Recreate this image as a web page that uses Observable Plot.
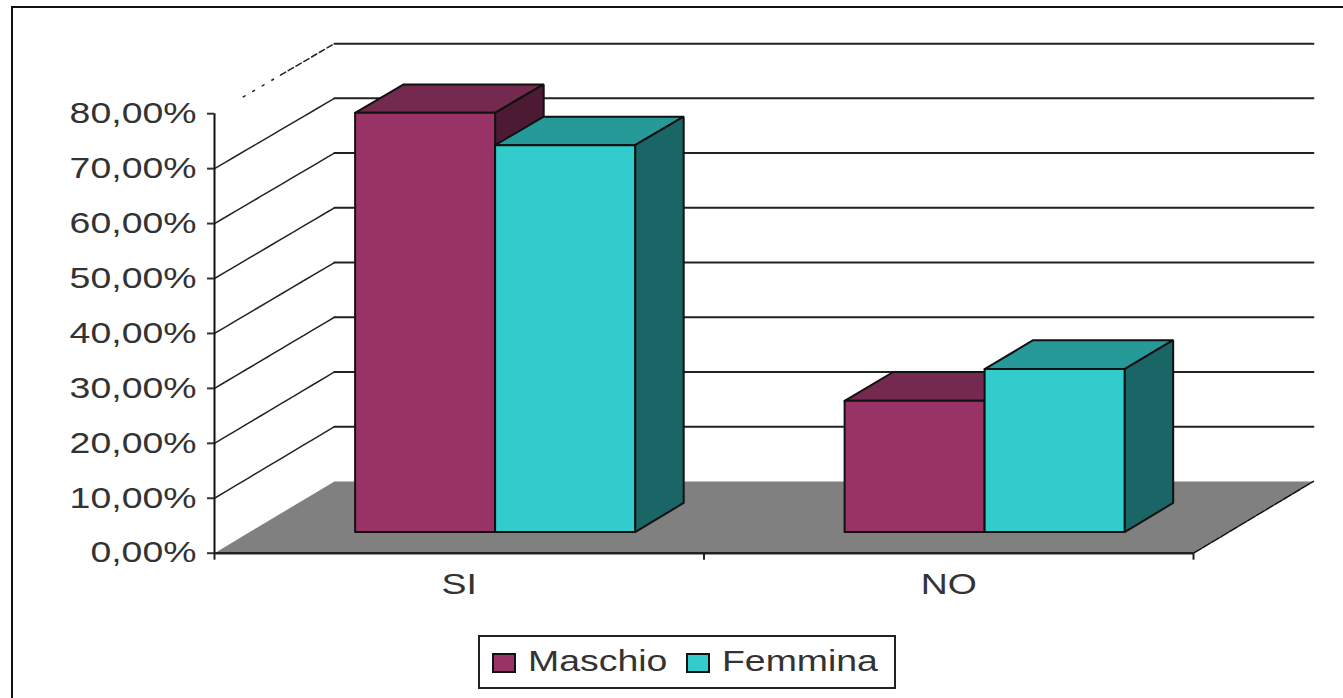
<!DOCTYPE html>
<html>
<head>
<meta charset="utf-8">
<script src="https://cdn.jsdelivr.net/npm/d3@7"></script>
<script src="https://cdn.jsdelivr.net/npm/@observablehq/plot@0.6"></script>
<style>
html,body{margin:0;padding:0;background:#fff;overflow:hidden;width:1343px;height:698px;}
#wrap{position:relative;width:1343px;height:698px;}
#wrap svg{position:absolute;left:0;top:0;background:transparent;}
#frame{position:absolute;left:11px;top:6px;width:1340px;height:700px;border-left:2px solid #111;border-top:2px solid #111;}
#legend{position:absolute;left:478px;top:635px;width:414px;height:50px;border:2px solid #222;background:#fff;font:29px "Liberation Sans",Arial,sans-serif;color:#333;}
#legend i{position:absolute;top:16px;width:20px;height:16px;border:2px solid #111;}
#legend span{position:absolute;top:8px;line-height:32px;transform:scaleX(1.29);transform-origin:left center;white-space:nowrap;}
</style>
</head>
<body>
<div id="wrap"><div id="frame"></div><div id="chart"></div>
<div id="legend"></div></div>
<script>
const categories = ["SI", "NO"];
const seriesNames = ["Maschio", "Femmina"];
const maschio = [76.4, 23.9];
const femmina = [70.5, 29.7];
const faceColors = [
  {front: "#993366", top: "#732a4e", side: "#4d1a33"},
  {front: "#33cccc", top: "#269999", side: "#1a6666"}
];
const ticksY = [0, 10, 20, 30, 40, 50, 60, 70, 80];
const series = [maschio, femmina];

// oblique projection of the Excel 3-D box: depth 0 = front, 1 = back wall
const depthX = 0.245, depthY = 13.07, depthShrink = 0.004;
const gap = 0.215, barW = 0.286, d0 = 0.295, d1 = 0.70;
const P = (c, v, d) => ({x: c + d * depthX, y: v * (1 - depthShrink * d) + d * depthY});
const poly = (...pts) => pts.map(p => P(...p));
const line = (pts, o) => Plot.line(pts, {x: "x", y: "y", curve: "linear", ...o});

const marks = [];
// floor
marks.push(line(poly([0,0,0],[2,0,0],[2,0,1],[0,0,1],[0,0,0]), {fill: "#808080", stroke: "none"}));
marks.push(line(poly([2,0,0],[2,0,1]), {stroke: "#111", strokeWidth: 1.5, strokeDasharray: "9 1.5"}));
// back-wall grid and left-wall lines
for (const v of ticksY.slice(1)) {
  marks.push(line(poly([0,v,1],[2,v,1]), {stroke: "#222", strokeWidth: 2}));
  if (v < 80) marks.push(line(poly([0,v,0],[0,v,1]), {stroke: "#222", strokeWidth: 1.5, strokeDasharray: "12 1"}));
}
marks.push(line(poly([0,80,0.24],[0,80,0.55]), {stroke: "#222", strokeWidth: 1.5, strokeDasharray: "2 9"}));
marks.push(line(poly([0,80,0.55],[0,80,1]), {stroke: "#222", strokeWidth: 1.5, strokeDasharray: "6 3"}));
// bars
categories.forEach((_, c) => {
  series.forEach((vals, k) => {
    const v = vals[c], a = c + gap + k * barW, b = a + barW, col = faceColors[k];
    const o = {stroke: "#111", strokeWidth: 2, strokeLinejoin: "miter"};
    marks.push(line(poly([a,v,d0],[b,v,d0],[b,v,d1],[a,v,d1],[a,v,d0]), {...o, fill: col.top}));
    marks.push(line(poly([b,0,d0],[b,0,d1],[b,v,d1],[b,v,d0],[b,0,d0]), {...o, fill: col.side}));
    marks.push(line(poly([a,0,d0],[b,0,d0],[b,v,d0],[a,v,d0],[a,0,d0]), {...o, fill: col.front}));
  });
});
// axes
marks.push(Plot.ruleX([0], {y1: 0, y2: 80, stroke: "#111", strokeWidth: 2}));
marks.push(Plot.ruleY([0], {x1: 0, x2: 2, stroke: "#222", strokeWidth: 2.5}));
marks.push(Plot.axisY({ticks: ticksY, tickFormat: d => d.toFixed(2).replace(".", ",") + "%", tickSize: 7, tickPadding: 11, fontSize: 29, label: null, color: "#333", strokeWidth: 2, fontFamily: "Liberation Sans"}));
marks.push(Plot.axisX({ticks: [0, 1, 2], tickSize: 7, fill: "none", label: null, strokeWidth: 2, stroke: "#222"}));
marks.push(Plot.axisX({ticks: [0.5, 1.5], tickSize: 0, tickPadding: 20, tickFormat: d => categories[Math.floor(d)], fontSize: 29, label: null, color: "#333", fontFamily: "Liberation Sans"}));

const chart = Plot.plot({
  width: 1343, height: 625,
  marginLeft: 214, marginRight: 150, marginTop: 113.2, marginBottom: 72.3,
  x: {domain: [0, 2], label: null},
  y: {domain: [0, 80], label: null},
  style: {background: "transparent", overflow: "visible"},
  marks
});
chart.querySelectorAll('g[aria-label$="tick label"] text').forEach(t => {
  t.setAttribute("transform", (t.getAttribute("transform") || "") + " scale(1.29,1)");
});
document.getElementById("chart").appendChild(chart);

const legend = document.getElementById("legend");
const swatchX = [12, 206], textX = [48, 242];
seriesNames.forEach((n, k) => {
  const i = document.createElement("i");
  i.style.left = swatchX[k] + "px";
  i.style.background = faceColors[k].front;
  const s = document.createElement("span");
  s.style.left = textX[k] + "px";
  s.textContent = n;
  legend.append(i, s);
});
</script>
</body>
</html>
